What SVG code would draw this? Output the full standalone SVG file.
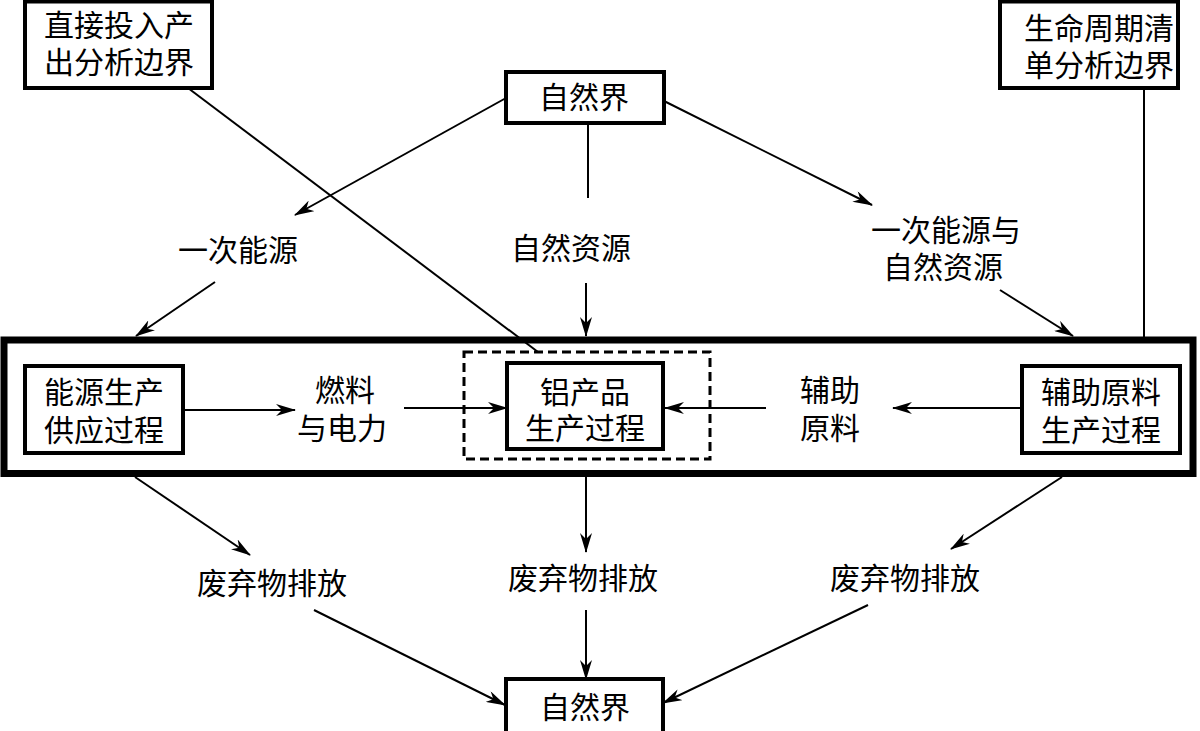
<svg xmlns="http://www.w3.org/2000/svg" width="1200" height="731" viewBox="0 0 1200 731">
<style>
text{font-family:"Liberation Serif","Noto Sans CJK SC",serif;font-size:30px;fill:#000;text-anchor:middle;dominant-baseline:central}
.box{fill:#fff;stroke:#000;stroke-width:4}
.ln{stroke:#000;stroke-width:2;fill:none}
.ar{stroke:#000;stroke-width:2;fill:none;marker-end:url(#ah)}
</style>
<defs>
<marker id="ah" markerUnits="userSpaceOnUse" viewBox="0 0 20 12" markerWidth="20" markerHeight="12" refX="19" refY="6" orient="auto">
<path d="M0,0 L20,6 L0,12 L6,6 z" fill="#000"/>
</marker>
</defs>
<rect width="1200" height="731" fill="#fff"/>
<g id="outer-boundary"><rect x="4" y="340" width="1189" height="133.5" fill="none" stroke="#000" stroke-width="7"/></g>
<g id="dashed-boundary"><rect x="464" y="352" width="246" height="107" fill="none" stroke="#000" stroke-width="3" stroke-dasharray="9,5"/></g>
<g id="connectors">
<line class="ln" x1="188" y1="88" x2="538" y2="352"/>
<line class="ln" x1="1144" y1="88" x2="1144" y2="337"/>
<line class="ar" x1="506" y1="98" x2="295" y2="215"/>
<line class="ar" x1="664" y1="101" x2="872" y2="205"/>
<line class="ln" x1="588" y1="123" x2="588" y2="198"/>
<line class="ar" x1="215" y1="282" x2="136" y2="336"/>
<line class="ar" x1="586" y1="283" x2="586" y2="336"/>
<line class="ar" x1="1000" y1="290" x2="1073" y2="336"/>
<line class="ar" x1="183" y1="410" x2="295" y2="410"/>
<line class="ar" x1="404" y1="408" x2="507" y2="408"/>
<line class="ar" x1="766" y1="408" x2="665" y2="408"/>
<line class="ar" x1="1022" y1="408" x2="893" y2="408"/>
<line class="ar" x1="135" y1="477" x2="250" y2="555"/>
<line class="ar" x1="586" y1="477" x2="586" y2="552"/>
<line class="ar" x1="1062" y1="477" x2="951" y2="549"/>
<line class="ar" x1="314" y1="610" x2="505" y2="705"/>
<line class="ar" x1="586" y1="610" x2="586" y2="679"/>
<line class="ar" x1="868" y1="605" x2="663" y2="703"/>
</g>
<g id="io-boundary"><rect class="box" x="25" y="1.5" width="187" height="86.5"/><text x="119" y="25">直接投入产</text><text x="119" y="62">出分析边界</text></g>
<g id="lca-boundary"><rect class="box" x="1000" y="1.5" width="178" height="86.5"/><text x="1099" y="28">生命周期清</text><text x="1099" y="65">单分析边界</text></g>
<g id="nature-top"><rect class="box" x="506" y="72" width="158" height="51"/><text x="584" y="97">自然界</text></g>
<g id="primary-energy"><text x="238" y="250">一次能源</text></g>
<g id="natural-resources"><text x="571" y="248">自然资源</text></g>
<g id="energy-and-resources"><text x="946" y="230">一次能源与</text><text x="943" y="267">自然资源</text></g>
<g id="energy-supply"><rect class="box" x="25" y="366" width="158" height="87"/><text x="104" y="392">能源生产</text><text x="104" y="430">供应过程</text></g>
<g id="fuel-power"><text x="345" y="390">燃料</text><text x="342" y="428">与电力</text></g>
<g id="aluminium"><rect class="box" x="507" y="363" width="156" height="86"/><text x="585" y="392">铝产品</text><text x="585" y="428">生产过程</text></g>
<g id="aux-materials"><text x="830" y="390">辅助</text><text x="830" y="428">原料</text></g>
<g id="aux-production"><rect class="box" x="1022" y="366" width="158" height="87"/><text x="1101" y="392">辅助原料</text><text x="1101" y="430">生产过程</text></g>
<g id="waste-left"><text x="272" y="583">废弃物排放</text></g>
<g id="waste-mid"><text x="583" y="578">废弃物排放</text></g>
<g id="waste-right"><text x="905" y="578">废弃物排放</text></g>
<g id="nature-bottom"><rect class="box" x="506" y="679" width="157" height="56"/><text x="585" y="707">自然界</text></g>
</svg>
